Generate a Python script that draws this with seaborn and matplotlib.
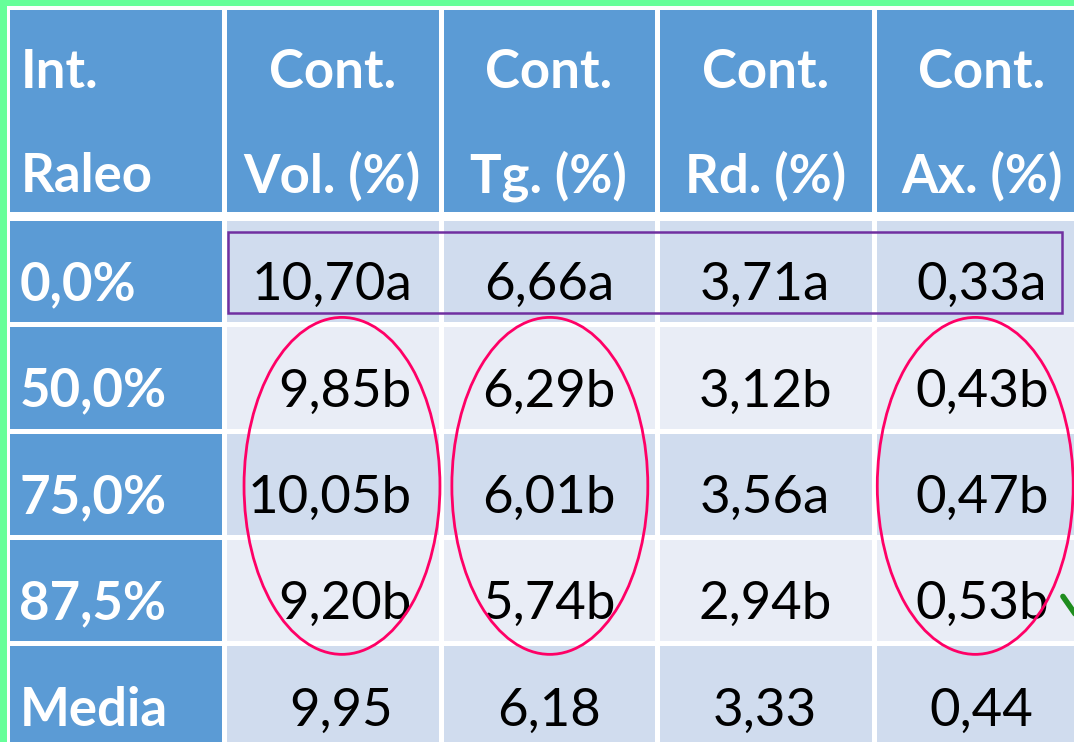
import numpy as np
import matplotlib
matplotlib.use("Agg")
import matplotlib.pyplot as plt
import seaborn as sns
from matplotlib.colors import ListedColormap
from matplotlib.patches import Rectangle, Ellipse

# table content
header_top = ["Int.", "Cont.", "Cont.", "Cont.", "Cont."]
header_bottom = ["Raleo", "Vol. (%)", "Tg. (%)", "Rd. (%)", "Ax. (%)"]
raleo = ["0,0%", "50,0%", "75,0%", "87,5%", "Media"]
vol = ["10,70a", "9,85b", "10,05b", "9,20b", "9,95"]
tg = ["6,66a", "6,29b", "6,01b", "5,74b", "6,18"]
rd = ["3,71a", "3,12b", "3,56a", "2,94b", "3,33"]
axl = ["0,33a", "0,43b", "0,47b", "0,53b", "0,44"]
columns = [raleo, vol, tg, rd, axl]

# highlighted groups: rows 1-3 of these columns are circled
circled_cols = [1, 2, 4]

blue = "#5B9BD5"
band1 = "#D0DCEE"
band2 = "#E9EDF6"
green = "#66FF99"

W, H = 1074, 742
fig = plt.figure(figsize=(W / 100, H / 100), dpi=100, facecolor="white")

# green frame of the slide
fig.patches.append(Rectangle((0, 0), 7 / W, 1, transform=fig.transFigure,
                             facecolor=green, edgecolor="none", zorder=-1))
fig.patches.append(Rectangle((0, 1 - 6 / H), 1, 6 / H, transform=fig.transFigure,
                             facecolor=green, edgecolor="none", zorder=-1))

x0, colw = 7.5, 216.5
ncol, nrow = len(columns), len(raleo)
head_top, head_bot = 7, 214
body_top, rowh = 218, 106.3

cmap = ListedColormap([blue, band1, band2])

# header
ax_h = fig.add_axes([x0 / W, 1 - head_bot / H, ncol * colw / W, (head_bot - head_top) / H])
sns.heatmap(np.zeros((1, ncol)), ax=ax_h, cmap=cmap, vmin=0, vmax=2, cbar=False,
            linewidths=2.2, linecolor="white", xticklabels=False, yticklabels=False)
hfont = dict(family="Lato", fontsize=38, fontweight="bold", color="white", va="baseline")
for j in range(ncol):
    if j == 0:
        ax_h.text(0.06, 0.39, header_top[j], ha="left", **hfont)
        ax_h.text(0.06, 0.894, header_bottom[j], ha="left", **hfont)
    else:
        ax_h.text(j + 0.5, 0.39, header_top[j], ha="center", **hfont)
        ax_h.text(j + 0.5, 0.894, header_bottom[j], ha="center", **hfont)

# body
codes = np.zeros((nrow, ncol))
for i in range(nrow):
    codes[i, 1:] = 1 if i % 2 == 0 else 2
ax_b = fig.add_axes([x0 / W, 1 - (body_top + nrow * rowh) / H, ncol * colw / W, nrow * rowh / H])
sns.heatmap(codes, ax=ax_b, cmap=cmap, vmin=0, vmax=2, cbar=False,
            linewidths=2.2, linecolor="white", xticklabels=False, yticklabels=False)

for i in range(nrow):
    for j, col in enumerate(columns):
        if j == 0:
            ax_b.text(0.055, i + 0.775, col[i], ha="left", va="baseline", family="Lato",
                      fontsize=38, fontweight="bold", color="white")
        elif j == 1 and i < nrow - 1:
            ax_b.text(j + 0.868, i + 0.775, col[i], ha="right", va="baseline",
                      family="Lato", fontsize=38, color="black")
        else:
            dx = 0.54 if j == 1 else 0.5
            ax_b.text(j + dx, i + 0.775, col[i], ha="center", va="baseline",
                      family="Lato", fontsize=38, color="black")

# purple box around the control row
ax_b.add_patch(Rectangle((1.02, 0.13), 3.85, 0.76, facecolor="none",
                         edgecolor="#7030A0", lw=1.8, clip_on=False, zorder=5))
# pink ellipses around the "b" groups
for j, dx in zip(circled_cols, [0.045, 0.005, -0.03]):
    ax_b.add_patch(Ellipse((j + 0.5 + dx, 2.52), 0.905, 3.17, facecolor="none",
                           edgecolor="#FF0066", lw=2, clip_on=False, zorder=5))
# partially visible green check mark
ax_b.plot([4.875, 4.95], [3.56, 3.78], color="#1E8C1E", lw=4, solid_capstyle="round",
          clip_on=False, zorder=6)

fig.savefig("out.png", dpi=100, facecolor=fig.get_facecolor())
